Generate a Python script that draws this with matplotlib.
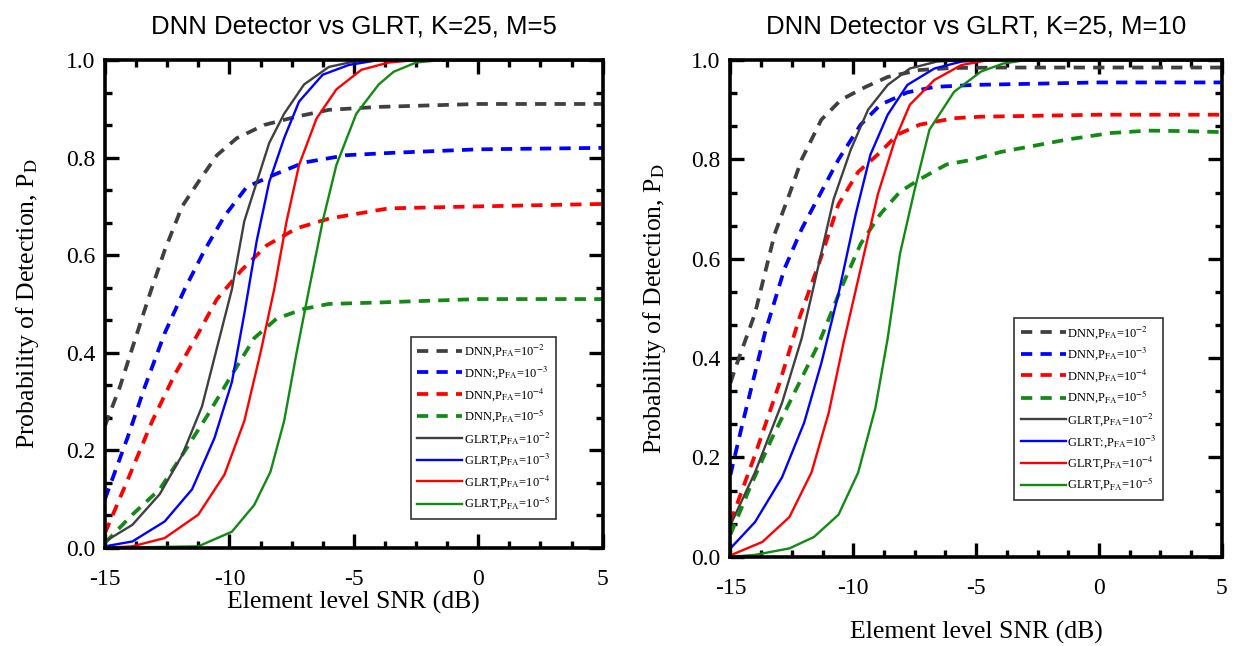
import matplotlib
matplotlib.use("Agg")
import matplotlib.pyplot as plt
from matplotlib.ticker import MultipleLocator, AutoMinorLocator, FormatStrFormatter

plt.rcParams['mathtext.fontset'] = 'stix'
plt.rcParams['axes.unicode_minus'] = False

# ---- M=5 panel: (snr, pd) pairs ----
dnn5_2_x = [-15, -14.4, -13.9, -13.2, -12.6, -11.9, -11.25, -10.5, -9.7, -8.6, -7.3, -6, -4, 0, 5]
dnn5_2_y = [0.25, 0.33, 0.41, 0.52, 0.61, 0.70, 0.75, 0.805, 0.84, 0.867, 0.884, 0.898, 0.904, 0.91, 0.91]
dnn5_3_x = [-15, -14.1, -13.4, -12.6, -11.8, -11, -10.2, -9.3, -8.2, -7, -5.3, -3.4, 0, 5]
dnn5_3_y = [0.10, 0.225, 0.33, 0.44, 0.53, 0.61, 0.68, 0.74, 0.765, 0.79, 0.805, 0.81, 0.817, 0.82]
dnn5_4_x = [-15, -14, -13.1, -12.2, -11.25, -10.5, -9.5, -8.5, -7.3, -6, -3.6, 0, 5]
dnn5_4_y = [0.03, 0.15, 0.26, 0.355, 0.44, 0.51, 0.57, 0.62, 0.655, 0.675, 0.696, 0.70, 0.705]
dnn5_5_x = [-15, -13.9, -12.8, -11.9, -10.9, -9.9, -9, -8.1, -7, -6, -4, 0, 5]
dnn5_5_y = [0.01, 0.068, 0.12, 0.19, 0.27, 0.355, 0.43, 0.47, 0.49, 0.50, 0.503, 0.51, 0.51]

glrt5_2_x = [-15, -13.9, -12.8, -11.9, -11.1, -10.5, -9.9, -9.4, -8.9, -8.4, -7.8, -7, -6, -5, -4, 5]
glrt5_2_y = [0.013, 0.047, 0.11, 0.19, 0.29, 0.41, 0.53, 0.67, 0.75, 0.83, 0.89, 0.95, 0.986, 0.997, 1, 1]
glrt5_3_x = [-15, -13.9, -12.6, -11.5, -10.6, -9.9, -9.4, -8.9, -8.4, -7.8, -7.2, -6.25, -5.2, -4, 5]
glrt5_3_y = [0.003, 0.013, 0.054, 0.12, 0.225, 0.34, 0.48, 0.63, 0.75, 0.84, 0.915, 0.97, 0.99, 1, 1]
glrt5_4_x = [-15, -13.9, -12.6, -11.25, -10.2, -9.4, -8.75, -8.2, -7.7, -7.2, -6.5, -5.7, -4.7, -3.6, -2.5, 5]
glrt5_4_y = [0, 0.003, 0.02, 0.068, 0.15, 0.26, 0.40, 0.53, 0.67, 0.785, 0.88, 0.94, 0.98, 0.995, 1, 1]
glrt5_5_x = [-15, -11.25, -9.9, -9, -8.35, -7.8, -7.3, -6.8, -6.25, -5.7, -4.9, -4, -3.4, -2.5, -1.5, 5]
glrt5_5_y = [0, 0.003, 0.033, 0.088, 0.156, 0.26, 0.40, 0.53, 0.67, 0.785, 0.89, 0.95, 0.976, 0.995, 1, 1]

# ---- M=10 panel ----
dnn10_2_x = [-15, -14.8, -14, -13.2, -12.6, -12.1, -11.3, -10.5, -9.5, -8.6, -7.3, -6, -4, 0, 5]
dnn10_2_y = [0.35, 0.38, 0.49, 0.65, 0.73, 0.80, 0.88, 0.92, 0.946, 0.966, 0.98, 0.984, 0.985, 0.985, 0.985]
dnn10_3_x = [-15, -14.5, -13.6, -12.8, -12.1, -11.3, -10.6, -9.7, -8.9, -7.8, -6.7, -5.1, 0, 5]
dnn10_3_y = [0.165, 0.27, 0.45, 0.58, 0.66, 0.735, 0.80, 0.87, 0.91, 0.935, 0.946, 0.95, 0.955, 0.955]
dnn10_4_x = [-15, -14, -13, -12.2, -11.4, -10.6, -9.8, -9, -8.2, -7.3, -5.9, -4.8, 0, 5]
dnn10_4_y = [0.07, 0.205, 0.35, 0.48, 0.59, 0.71, 0.775, 0.81, 0.85, 0.87, 0.883, 0.886, 0.89, 0.89]
dnn10_5_x = [-15, -14.2, -13.3, -12.4, -11.4, -10.5, -9.7, -8.9, -8.1, -7.3, -6.2, -5.1, -4, -1.3, 0.45, 2, 3.5, 5]
dnn10_5_y = [0.045, 0.14, 0.24, 0.33, 0.43, 0.54, 0.63, 0.69, 0.735, 0.76, 0.79, 0.80, 0.815, 0.84, 0.853, 0.858, 0.857, 0.855]

glrt10_2_x = [-15, -14, -12.9, -12.1, -11.4, -10.8, -10.1, -9.4, -8.6, -7.7, -6.6, -5.5, 5]
glrt10_2_y = [0.064, 0.17, 0.31, 0.44, 0.59, 0.72, 0.82, 0.90, 0.95, 0.983, 0.997, 1, 1]
glrt10_3_x = [-15, -14, -12.9, -12, -11.3, -10.6, -9.9, -9.3, -8.6, -7.8, -6.7, -5.6, -4.5, 5]
glrt10_3_y = [0.017, 0.07, 0.16, 0.27, 0.39, 0.53, 0.69, 0.81, 0.89, 0.95, 0.983, 0.997, 1, 1]
glrt10_4_x = [-15, -13.7, -12.6, -11.7, -11, -10.4, -9.7, -9, -8.3, -7.7, -6.7, -5.6, -4.5, 5]
glrt10_4_y = [0.003, 0.03, 0.08, 0.17, 0.29, 0.43, 0.58, 0.73, 0.84, 0.91, 0.96, 0.99, 1, 1]
glrt10_5_x = [-15, -14, -12.6, -11.6, -10.6, -9.8, -9.1, -8.6, -8.1, -7.5, -6.9, -5.9, -4.8, -3.9, -3, 5]
glrt10_5_y = [0, 0.004, 0.017, 0.04, 0.085, 0.17, 0.30, 0.44, 0.61, 0.74, 0.86, 0.936, 0.977, 0.993, 1, 1]

colors = ['#404040', '#0000ff', '#ff0000', '#138a13']
exps = ['-2', '-3', '-4', '-5']

serif = 'Liberation Serif'


def draw(ax, dnn, glrt, title, dnn_sep, glrt_sep, legend_anchor, xpad, ypad):
    for i in range(4):
        ax.plot(dnn[i][0], dnn[i][1], color=colors[i], lw=2.7, ls=(0, (3, 2.2)),
                label='DNN' + dnn_sep[i] + 'P$_{\\rm FA}$=10$^{' + exps[i] + '}$')
    for i in range(4):
        ax.plot(glrt[i][0], glrt[i][1], color=colors[i], lw=1.7,
                label='GLRT' + glrt_sep[i] + 'P$_{\\rm FA}$=10$^{' + exps[i] + '}$')
    ax.set_xlim(-15, 5)
    ax.set_ylim(0, 1)
    ax.xaxis.set_major_locator(MultipleLocator(5))
    ax.xaxis.set_minor_locator(AutoMinorLocator(4))
    ax.yaxis.set_major_locator(MultipleLocator(0.2))
    ax.yaxis.set_minor_locator(AutoMinorLocator(3))
    ax.yaxis.set_major_formatter(FormatStrFormatter('%.1f'))
    ax.tick_params(which='both', direction='in', top=True, right=True, width=2.4)
    ax.tick_params(which='major', length=10, labelsize=17)
    ax.tick_params(which='minor', length=5)
    ax.tick_params(axis='x', which='major', pad=15)
    ax.tick_params(axis='y', which='major', pad=7)
    for lab in ax.get_xticklabels() + ax.get_yticklabels():
        lab.set_family(serif)
    for s in ax.spines.values():
        s.set_linewidth(2.6)
    ax.set_xlabel('Element level SNR (dB)', family=serif, fontsize=18.5, labelpad=xpad)
    ax.set_ylabel('Probability of Detection, P$_{\\rm D}$', family=serif, fontsize=18.5, labelpad=ypad)
    ax.set_title(title, family='Liberation Sans', fontsize=18.5, pad=19)
    leg = ax.legend(loc='lower left', bbox_to_anchor=legend_anchor, prop={'family': serif, 'size': 9},
                    frameon=True, fancybox=False, edgecolor='black', handlelength=3.6,
                    handletextpad=0.1, labelspacing=0.4, borderpad=0.5, borderaxespad=0)
    leg.get_frame().set_linewidth(1.2)


fig = plt.figure(figsize=(12.38, 6.46), dpi=100)
ax1 = fig.add_axes([0.0848, 0.152, 0.402, 0.755])
ax2 = fig.add_axes([0.590, 0.138, 0.397, 0.769])

draw(ax1,
     [(dnn5_2_x, dnn5_2_y), (dnn5_3_x, dnn5_3_y), (dnn5_4_x, dnn5_4_y), (dnn5_5_x, dnn5_5_y)],
     [(glrt5_2_x, glrt5_2_y), (glrt5_3_x, glrt5_3_y), (glrt5_4_x, glrt5_4_y), (glrt5_5_x, glrt5_5_y)],
     'DNN Detector vs GLRT, K=25, M=5', [',', ':,', ',', ','], [',', ',', ',', ','], (0.615, 0.06), 1, 18)
draw(ax2,
     [(dnn10_2_x, dnn10_2_y), (dnn10_3_x, dnn10_3_y), (dnn10_4_x, dnn10_4_y), (dnn10_5_x, dnn10_5_y)],
     [(glrt10_2_x, glrt10_2_y), (glrt10_3_x, glrt10_3_y), (glrt10_4_x, glrt10_4_y), (glrt10_5_x, glrt10_5_y)],
     'DNN Detector vs GLRT, K=25, M=10', [',', ',', ',', ','], [',', ':,', ',', ','], (0.578, 0.115), 16, 17)

fig.savefig('out.png', dpi=100)
